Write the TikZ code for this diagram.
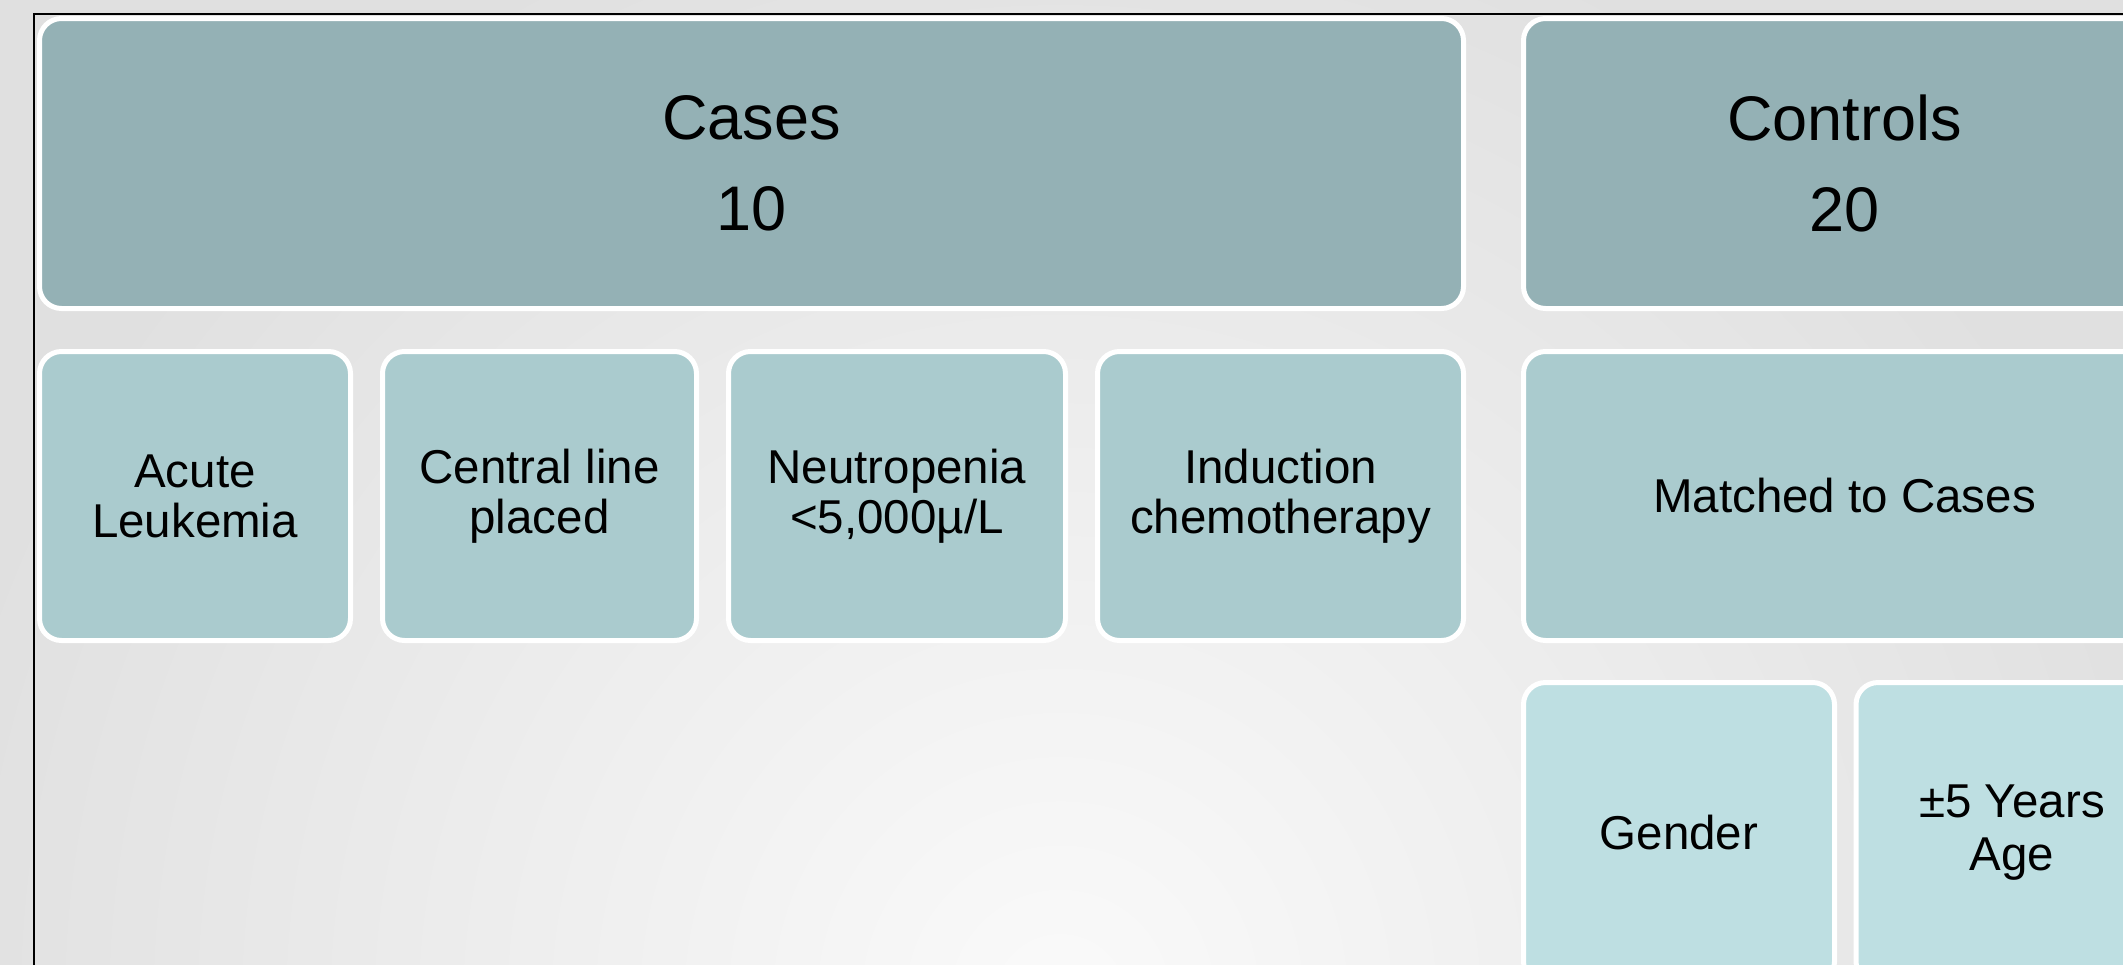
\documentclass[tikz,border=0pt]{standalone}
\usepackage{fontspec}
\setmainfont{Liberation Sans}
\definecolor{bgin}{HTML}{FAFAFA}
\definecolor{bgout}{HTML}{E0E0E0}
\definecolor{topfill}{HTML}{94B1B5}
\definecolor{midfill}{HTML}{AACBCE}
\definecolor{lowfill}{HTML}{BEDFE2}
\tikzset{
  box/.style={rectangle, rounded corners=22pt, draw=white, line width=5pt,
    inner sep=0pt, align=center, text=black},
  bigbox/.style={box, fill=topfill, font=\fontsize{63}{91}\selectfont},
  midbox/.style={box, fill=midfill, font=\fontsize{47.5}{50}\selectfont},
  lowbox/.style={box, fill=lowfill, font=\fontsize{47.5}{53}\selectfont},
  frameline/.style={draw=black, line width=2pt}
}
\begin{document}
\begin{tikzpicture}[x=1pt,y=-1pt]
\useasboundingbox (0,0) rectangle (2123,964);
\clip (0,0) rectangle (2123,964);
% background
\fill[bgout] (0,0) rectangle (2123,964);
\shade[inner color=bgin, outer color=bgout] (1060,1000) circle (1150);
% frame
\draw[frameline] (34,1100) -- (34,14) -- (2300,14);
% top row
\node[bigbox, minimum width=1424pt, minimum height=290pt] (cases) at (751.5,163.5) {Cases\\10};
\node[bigbox, minimum width=642pt, minimum height=290pt] (controls) at (1844.5,163.5) {Controls\\20};
% middle row
\node[midbox, minimum width=311pt, minimum height=289pt] (acute) at (195,496) {Acute\\Leukemia};
\node[midbox, minimum width=314pt, minimum height=289pt] (central) at (539.5,496) {Central line\\placed};
\node[midbox, minimum width=337pt, minimum height=289pt] (neutro) at (897,496) {Neutropenia\\<5,000µ/L};
\node[midbox, minimum width=366pt, minimum height=289pt] (induct) at (1280.5,496) {Induction\\chemotherapy};
\node[midbox, minimum width=642pt, minimum height=289pt] (matched) at (1844.5,496) {Matched to Cases};
% bottom row
\node[lowbox, minimum width=311pt, minimum height=301pt] (gender) at (1679,833) {Gender};
\node[lowbox, minimum width=312pt, minimum height=301pt] (age) at (2012,833) {±5 Years\\Age};
\end{tikzpicture}
\end{document}
